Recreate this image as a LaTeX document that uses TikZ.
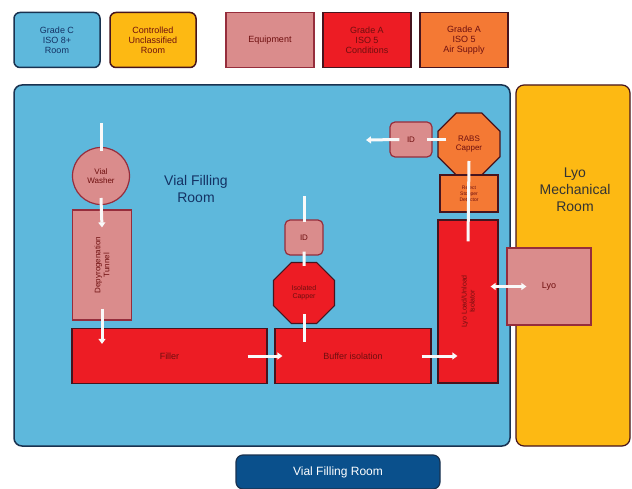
\documentclass[tikz,border=0pt]{standalone}
\usepackage{fontspec}
\setmainfont{Liberation Sans}
\usetikzlibrary{shapes.geometric,arrows.meta}
\definecolor{roomblue}{RGB}{94,184,220}
\definecolor{roomline}{RGB}{25,50,80}
\definecolor{lyoyellow}{RGB}{253,185,19}
\definecolor{equippink}{RGB}{218,140,140}
\definecolor{equipline}{RGB}{150,45,60}
\definecolor{isored}{RGB}{237,28,36}
\definecolor{isoline}{RGB}{70,20,30}
\definecolor{airorange}{RGB}{244,121,52}
\definecolor{txtred}{RGB}{110,15,15}
\definecolor{txtblue}{RGB}{20,50,100}
\definecolor{labelblue}{RGB}{10,80,140}
\tikzset{
  legroom/.style={draw=roomline,line width=1.5pt,rounded corners=6pt,minimum width=86pt,minimum height=55pt,inner sep=0pt,align=center,font=\fontsize{9}{10}\selectfont},
  legsq/.style={line width=1.2pt,minimum width=88pt,minimum height=55pt,inner sep=0pt,align=center,font=\fontsize{9}{10}\selectfont},
  equip/.style={draw=equipline,fill=equippink,line width=1.2pt,inner sep=0pt,align=center,text=txtred},
  isobox/.style={draw=isoline,fill=isored,line width=1.2pt,inner sep=0pt,align=center,text=txtred},
  airbox/.style={draw=isoline,fill=airorange,line width=1.2pt,inner sep=0pt,align=center,text=txtred},
  flow/.style={draw=white!95!gray,line width=3pt,-{Triangle[width=7pt,length=5pt]}},
  flowline/.style={draw=white!95!gray,line width=3pt},
  flowboth/.style={draw=white!95!gray,line width=3pt,{Triangle[width=7pt,length=5pt]}-{Triangle[width=7pt,length=5pt]}},
}
\begin{document}
\begin{tikzpicture}[x=1pt,y=-1pt]
\useasboundingbox[fill=white] (0,0) rectangle (632,489);
% legend
\node[legroom,fill=roomblue,text=txtblue] (lgc) at (57,40) {Grade C\\ISO 8+\\Room};
\node[legroom,fill=lyoyellow,draw=isoline,text=txtred] (lcu) at (153,40) {Controlled\\Unclassified\\Room};
\node[legsq,fill=equippink,draw=equipline,text=txtred] (leq) at (270,40) {Equipment};
\node[legsq,fill=isored,draw=isoline,text=txtred] (lga) at (367,40) {Grade A\\ISO 5\\Conditions};
\node[legsq,fill=airorange,draw=isoline,text=txtred] (lgs) at (464,40) {Grade A\\ISO 5\\Air Supply};
% rooms
\node[draw=roomline,fill=roomblue,line width=1.5pt,rounded corners=8pt,minimum width=496pt,minimum height=361pt,inner sep=0pt] (vfr) at (262,265.5) {};
\node[draw=isoline,fill=lyoyellow,line width=1.2pt,rounded corners=8pt,minimum width=114pt,minimum height=361pt,inner sep=0pt] (lmr) at (573,265.5) {};
\node[align=center,text=txtblue,font=\fontsize{14}{17}\selectfont] (vfrt) at (196,189) {Vial Filling\\Room};
\node[align=center,text=black!80,font=\fontsize{14}{17}\selectfont] (lmrt) at (575,190) {Lyo\\Mechanical\\Room};
% equipment
\node[equip,circle,minimum size=57pt,font=\fontsize{8}{9}\selectfont] (vw) at (101,176) {Vial\\Washer};
\node[equip,minimum width=59pt,minimum height=110pt] (dt) at (102,265) {};
\node[rotate=90,align=center,text=txtred,font=\fontsize{8}{9}\selectfont] (dtt) at (dt.center) {Depyrogenation\\Tunnel};
\node[isobox,minimum width=195pt,minimum height=55pt,font=\fontsize{9}{10}\selectfont] (fil) at (169.5,356) {Filler};
\node[isobox,minimum width=156pt,minimum height=55pt,font=\fontsize{9}{10}\selectfont] (buf) at (353,356) {Buffer isolation};
\node[isobox,minimum width=60pt,minimum height=163pt] (lli) at (468,301.5) {};
\node[rotate=90,align=center,text=txtred,font=\fontsize{7}{8}\selectfont] (llit) at (lli.center) {Lyo Load/Unload\\Isolator};
\node[equip,rounded corners=5pt,minimum width=38pt,minimum height=35pt,font=\fontsize{8}{9}\selectfont] (id1) at (304,237.5) {ID};
\node[isobox,regular polygon,regular polygon sides=8,minimum size=66pt,font=\fontsize{7}{8}\selectfont] (cap) at (304,293) {Isolated\\Capper};
\node[equip,rounded corners=5pt,minimum width=42pt,minimum height=35pt,font=\fontsize{8}{9}\selectfont] (id2) at (411,139.5) {ID};
\node[airbox,regular polygon,regular polygon sides=8,minimum size=67pt,font=\fontsize{8}{9}\selectfont] (rabs) at (469,144) {RABS\\Capper};
\node[airbox,minimum width=58pt,minimum height=37pt,font=\fontsize{5}{6}\selectfont] (rsd) at (469,193.5) {Reject\\Stopper\\Detector};
\node[equip,minimum width=84pt,minimum height=77pt,font=\fontsize{9}{10}\selectfont] (lyo) at (549,286.5) {Lyo};
% flow connectors
\coordinate (vwin) at (101,123);
\coordinate (idin) at (304,196);
\coordinate (idout) at (366,140);
\draw[flowline] (vwin) -- ([yshift=-4pt]vw.north);
\draw[flow] ([yshift=-22pt]vw.center) -- ([yshift=-18pt]dt.north);
\draw[flow] ([yshift=12pt]dt.south) -- ([yshift=-16pt]fil.north -| dt.south);
\draw[flow] ([xshift=-20pt]fil.east) -- ([xshift=8pt]buf.west);
\draw[flow] ([xshift=-10pt]buf.east) -- ([xshift=20pt]lli.west |- buf.east);
\draw[flowline] (idin) -- ([yshift=-3pt]id1.north);
\draw[flowline] ([yshift=4pt]id1.south) -- ([yshift=-4pt]cap.north);
\draw[flowline] ([yshift=10pt]cap.south) -- ([yshift=-14pt]buf.north -| cap.south);
\draw[flowline] ([xshift=9pt]rabs.west |- id2.east) -- ([xshift=-6pt]id2.east);
\draw[flow] ([xshift=10pt]id2.west) -- (idout);
\draw[flowline] ([yshift=-17pt]rabs.center) -- ([yshift=-22pt]lli.north);
\draw[flowboth] ([xshift=-8pt]lli.east |- lyo.west) -- ([xshift=20pt]lyo.west);
% bottom label
\node[draw=roomline,fill=labelblue,line width=1.2pt,rounded corners=7pt,minimum width=204pt,minimum height=34pt,inner sep=0pt,text=white,font=\fontsize{12}{14}\selectfont] (lbl) at (338,472) {Vial Filling Room};
\end{tikzpicture}
\end{document}
